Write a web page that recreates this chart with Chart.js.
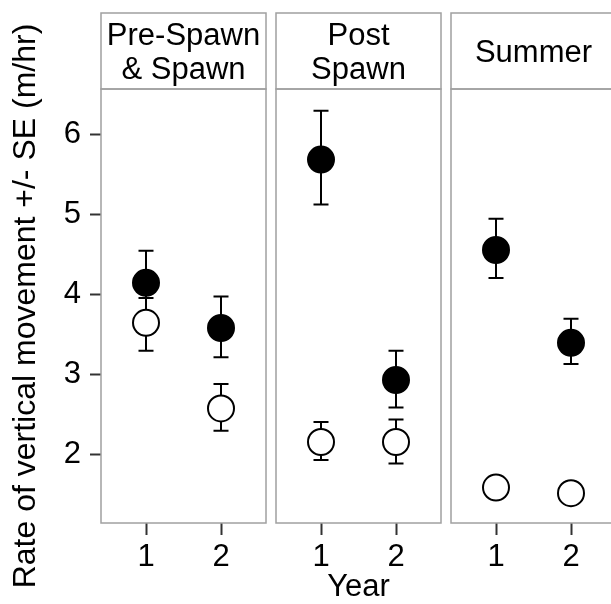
<!DOCTYPE html>
<html>
<head>
<meta charset="utf-8">
<script src="https://cdn.jsdelivr.net/npm/chart.js@4.4.1/dist/chart.umd.min.js"></script>
<style>
  html, body { margin: 0; padding: 0; background: #fff; width: 611px; height: 604px; overflow: hidden; }
  #wrap { position: relative; width: 611px; height: 604px; overflow: hidden; }
  canvas { position: absolute; left: 0; top: 0; }
</style>
</head>
<body>
<div id="wrap">
  <canvas id="p0" width="620" height="604"></canvas>
  <canvas id="p1" width="620" height="604"></canvas>
  <canvas id="p2" width="620" height="604"></canvas>
</div>
<script>
// data
const years = [1, 2];
const yTicks = [2, 3, 4, 5, 6];
const seasons = [['Pre-Spawn', '& Spawn'], ['Post', 'Spawn'], ['Summer']];

const filledMean = [[4.14, 3.575], [5.68, 2.925], [4.55, 3.39]];
const filledLow  = [[3.74, 3.21], [5.12, 2.58], [4.20, 3.125]];
const filledHigh = [[4.54, 3.97], [6.29, 3.29], [4.94, 3.69]];

const openMean = [[3.64, 2.57], [2.15, 2.15], [1.58, 1.51]];
const openLow  = [[3.29, 2.29], [1.925, 1.88], [1.47, 1.42]];
const openHigh = [[3.95, 2.875], [2.40, 2.43], [1.69, 1.60]];

const FONT = 'Liberation Sans, Arial, sans-serif';
const FSIZE = 31;
const panelLeft = [101, 276, 451];
const panelW = 165;
const canvasW = 620;

const panelDeco = {
  id: 'panelDeco',
  beforeDatasetsDraw(chart, args, opts) {
    const ctx = chart.ctx, x = chart.scales.x, y = chart.scales.y;
    const k = opts.panel;
    ctx.save();
    ctx.strokeStyle = '#000';
    ctx.lineWidth = 2;
    const bars = [[filledLow[k], filledHigh[k]], [openLow[k], openHigh[k]]];
    bars.forEach(([lo, hi]) => {
      years.forEach((yr, i) => {
        const px = x.getPixelForValue(yr);
        const y0 = y.getPixelForValue(lo[i]);
        const y1 = y.getPixelForValue(hi[i]);
        ctx.beginPath();
        ctx.moveTo(px, y0); ctx.lineTo(px, y1);
        ctx.moveTo(px - 7.5, y0); ctx.lineTo(px + 7.5, y0);
        ctx.moveTo(px - 7.5, y1); ctx.lineTo(px + 7.5, y1);
        ctx.stroke();
      });
    });
    ctx.restore();
  },
  afterDraw(chart, args, opts) {
    const ctx = chart.ctx, a = chart.chartArea;
    const k = opts.panel;
    ctx.save();
    ctx.strokeStyle = '#a0a0a0';
    ctx.lineWidth = 1.5;
    ctx.strokeRect(a.left, a.top, a.right - a.left, a.bottom - a.top);
    // strip
    const sTop = 13;
    ctx.strokeRect(a.left, sTop, a.right - a.left, a.top - sTop);
    ctx.fillStyle = '#000';
    ctx.font = FSIZE + 'px ' + FONT;
    ctx.textAlign = 'center';
    ctx.textBaseline = 'middle';
    const lines = seasons[k];
    const cx = (a.left + a.right) / 2;
    const mid = (sTop + a.top) / 2 + 2;
    const lh = 34;
    lines.forEach((t, i) => {
      ctx.fillText(t, cx, mid + (i - (lines.length - 1) / 2) * lh);
    });
    ctx.restore();
  }
};

function makePanel(k) {
  const showY = k === 0;
  const left = panelLeft[k];
  const right = left + panelW;
  return new Chart(document.getElementById('p' + k), {
    type: 'scatter',
    data: {
      datasets: [
        {
          label: 'filled',
          data: years.map((yr, i) => ({ x: yr, y: filledMean[k][i] })),
          backgroundColor: '#000', borderColor: '#000',
          pointRadius: 13, pointHoverRadius: 13, borderWidth: 2
        },
        {
          label: 'open',
          data: years.map((yr, i) => ({ x: yr, y: openMean[k][i] })),
          backgroundColor: '#fff', borderColor: '#000',
          pointRadius: 13, pointHoverRadius: 13, borderWidth: 2
        }
      ]
    },
    options: {
      responsive: false,
      animation: false,
      events: [],
      layout: { autoPadding: false, padding: { left: showY ? 0 : left, right: canvasW - right, top: 89, bottom: 0 } },
      plugins: {
        legend: { display: false },
        tooltip: { enabled: false },
        panelDeco: { panel: k }
      },
      scales: {
        x: {
          type: 'linear', min: 0.4, max: 2.6,
          afterBuildTicks: s => { s.ticks = years.map(v => ({ value: v })); },
          afterFit: s => { s.height = 81; s.paddingLeft = 0; s.paddingRight = 0; },
          grid: { drawOnChartArea: false, drawTicks: true, tickLength: 12, tickColor: '#333', tickWidth: 2 },
          border: { display: false },
          ticks: { color: '#000', font: { family: FONT, size: FSIZE }, padding: 4, maxRotation: 0 },
          title: { display: k === 1, text: 'Year', color: '#000', font: { family: FONT, size: FSIZE }, padding: { top: 0, bottom: -2 } }
        },
        y: {
          display: showY,
          min: 1.1375, max: 6.5625,
          afterBuildTicks: s => { s.ticks = yTicks.map(v => ({ value: v })); },
          afterFit: s => { if (showY) s.width = 101; s.paddingTop = 0; s.paddingBottom = 0; },
          grid: { drawOnChartArea: false, drawTicks: true, tickLength: 11, tickColor: '#333', tickWidth: 2 },
          border: { display: false },
          ticks: { color: '#000', font: { family: FONT, size: FSIZE }, padding: 9 },
          title: { display: true, text: 'Rate of vertical movement +/- SE (m/hr)', color: '#000', font: { family: FONT, size: 32 }, padding: { top: 7, bottom: 0 } }
        }
      }
    },
    plugins: [panelDeco]
  });
}

[0, 1, 2].forEach(makePanel);
</script>
</body>
</html>
